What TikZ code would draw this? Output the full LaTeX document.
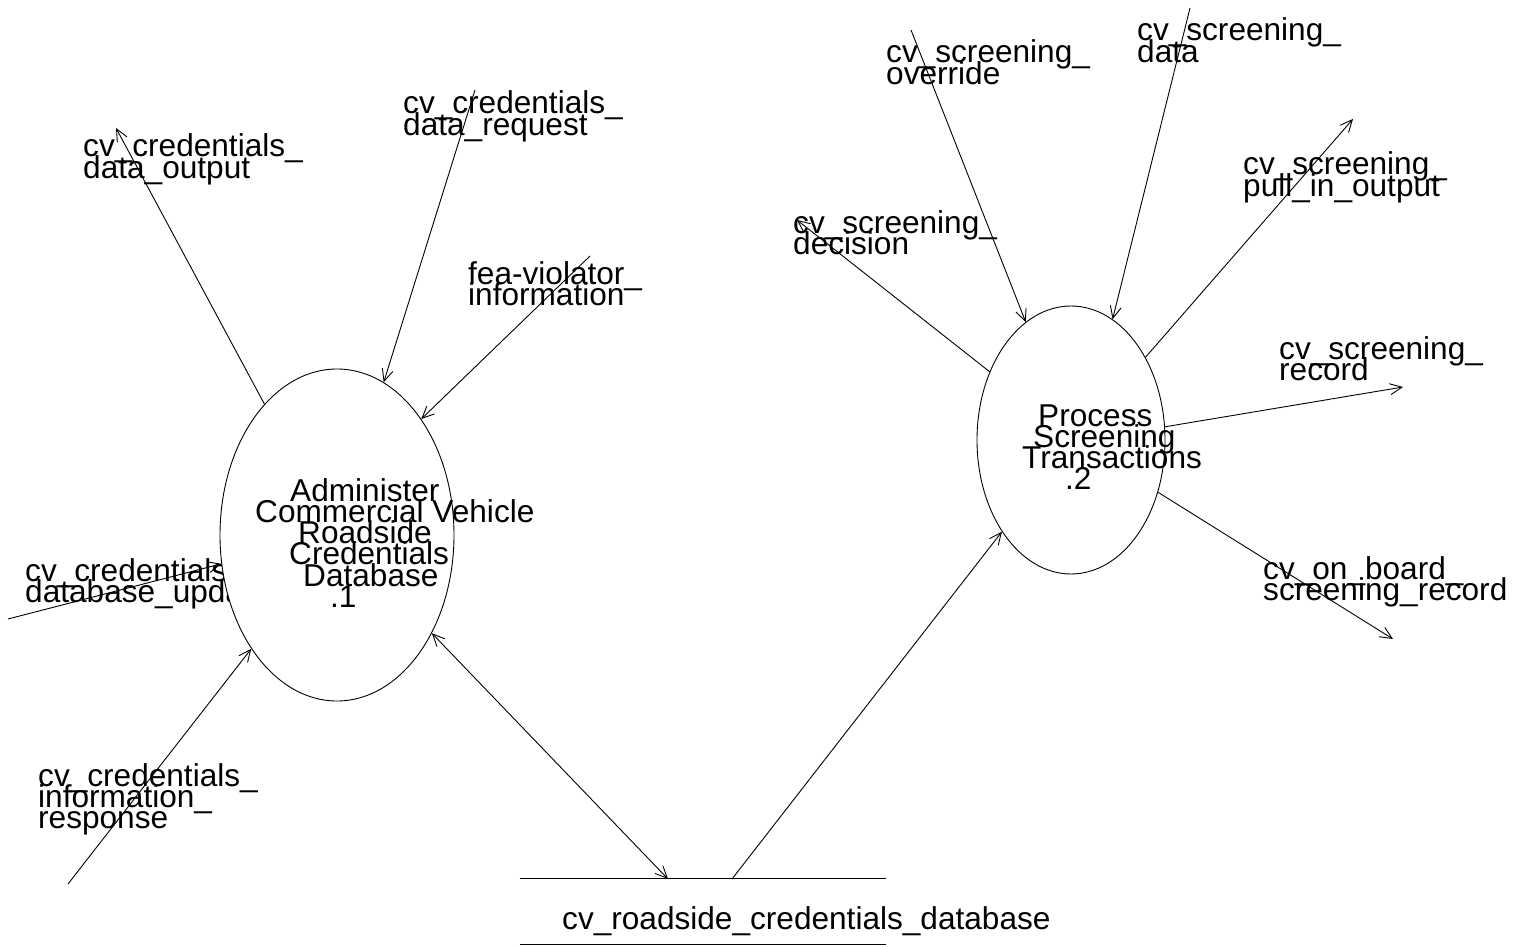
\documentclass[tikz,border=0pt]{standalone}
\usepackage{fontspec}
\setmainfont{Liberation Sans}
\usetikzlibrary{arrows.meta,shapes.geometric}
\newcommand\mlines[1]{\vtop{\baselineskip=21.3pt\lineskiplimit=-\maxdimen\lineskip=0pt\halign{##\hfil\cr#1\crcr}}}
\tikzset{
  lbl/.style={anchor=base west, inner sep=0pt, font=\fontsize{31.6}{21.3}\selectfont},
  proc/.style={ellipse, draw, fill=white, inner sep=0pt, line width=0.9pt},
  flow/.style={line width=0.9pt, -{Straight Barb[length=12pt,width=11pt]}},
  bflow/.style={line width=0.9pt, {Straight Barb[length=12pt,width=11pt]}-{Straight Barb[length=12pt,width=11pt]}},
  storeline/.style={line width=0.9pt}
}
\begin{document}
\begin{tikzpicture}[x=1pt,y=-1pt]
\useasboundingbox[fill=white] (0,0) rectangle (1513,947);

% external labels
\node[lbl] (l1) at (83,157) {\mlines{cv\_credentials\_\cr data\_output}};
\node[lbl] (l2) at (403,114) {\mlines{cv\_credentials\_\cr data\_request}};
\node[lbl] (l3) at (468,284) {\mlines{fea-violator\_\cr information}};
\node[lbl] (l4) at (25,581) {\mlines{cv\_credentials\_\cr database\_update}};
\node[lbl] (l5) at (38,786) {\mlines{cv\_credentials\_\cr information\_\cr response}};
\node[lbl] (r1) at (886,63) {\mlines{cv\_screening\_\cr override}};
\node[lbl] (r2) at (1137,41) {\mlines{cv\_screening\_\cr data}};
\node[lbl] (r3) at (793,233) {\mlines{cv\_screening\_\cr decision}};
\node[lbl] (r4) at (1243,175) {\mlines{cv\_screening\_\cr pull\_in\_output}};
\node[lbl] (r5) at (1279,359) {\mlines{cv\_screening\_\cr record}};
\node[lbl] (r6) at (1263,579) {\mlines{cv\_on\_board\_\cr screening\_record}};

% processes
\node[proc, minimum width=234pt, minimum height=332pt] (p1) at (337,535) {};
\node[proc, minimum width=188pt, minimum height=268pt] (p2) at (1071,440) {};
\node[lbl] (p1t) at (255,501) {\mlines{\hskip35pt Administer\cr Commercial Vehicle\cr \hskip43pt Roadside\cr \hskip34pt Credentials\cr \hskip48pt Database\cr \hskip75pt .1}};
\node[lbl] (p2t) at (1020,426) {\mlines{\hskip18pt Process\cr \hskip13pt Screening\cr \hskip2pt Transactions\cr \hskip45pt .2}};

% data store
\node[inner sep=0pt, minimum width=366pt, minimum height=65pt] (st) at (703,911.5) {};
\draw[storeline] (st.north west) -- (st.north east);
\draw[storeline] (st.south west) -- (st.south east);
\node[lbl] (stt) at (562,929) {cv\_roadside\_credentials\_database};

% free ends
\coordinate (o1) at (116,128);
\coordinate (i2) at (475,90);
\coordinate (i3) at (590,256);
\coordinate (i4) at (8,619);
\coordinate (i5) at (68,884);
\coordinate (s1) at (668,879);
\coordinate (s2) at (732,879);
\coordinate (j1) at (911,30);
\coordinate (j2) at (1190,8);
\coordinate (q3) at (797,220);
\coordinate (q4) at (1353,119);
\coordinate (q5) at (1403,387);
\coordinate (q6) at (1393,639);

% flows of process 1
\draw[flow] (p1.119) -- (o1);
\draw[flow] (i2) -- (p1.73);
\draw[flow] (i3) -- (p1.54);
\draw[flow] (i4) -- (p1.194);
\draw[flow] (i5) -- (p1.233);
\draw[bflow] (p1.314) -- (s1);

% flows of process 2
\draw[flow] (s2) -- (p2.233);
\draw[flow] (j1) -- (p2.111);
\draw[flow] (j2) -- (p2.71);
\draw[flow] (p2.140) -- (q3);
\draw[flow] (p2.48) -- (q4);
\draw[flow] (p2.8) -- (q5);
\draw[flow] (p2.-31) -- (q6);
\end{tikzpicture}
\end{document}
